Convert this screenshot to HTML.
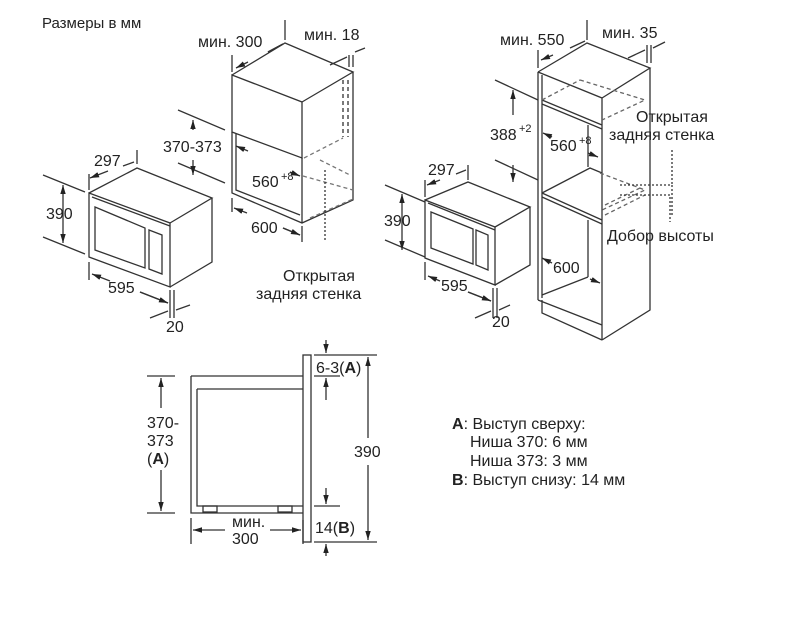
<!DOCTYPE html>
<html><head><meta charset="utf-8"><style>
html,body{margin:0;padding:0;background:#fff;}
svg{display:block;}
text{font-family:"Liberation Sans",sans-serif;font-size:16px;fill:#222;}
</style></head><body>
<svg width="800" height="618" viewBox="0 0 800 618" xmlns="http://www.w3.org/2000/svg">
<defs>
<marker id="a" viewBox="0 0 10 10" refX="10" refY="5" markerWidth="7" markerHeight="7" orient="auto-start-reverse"><path d="M0,2 L10,5 L0,8 z" fill="#222"/></marker>
</defs>
<text x="42" y="28" style="font-size:15px">Размеры в мм</text>

<g fill="none" stroke="#333" stroke-width="1.3">
<!-- microwave 1 -->
<path d="M89,193 L170,223 L170,287 L89,257 Z"/>
<path d="M89,193 L137,168 L212,198 L170,223 M212,198 L212,262 L170,287"/>
<path d="M92,197 L170,226"/>
<path d="M95,207 L145,228 L145,268 L95,250 Z"/>
<path d="M149,230 L162,235 L162,274 L149,269 Z"/>
<!-- dims m1 -->
<path d="M43,175 L85,192 M43,237 L85,254"/>
<path d="M63,185 L63,243" marker-start="url(#a)" marker-end="url(#a)"/>
<path d="M89,190 L89,174 M137,164 L137,150"/>
<path d="M90,178 L108,171 M123,166 L134,162" marker-start="url(#a)"/>
<path d="M89,262 L89,280 M170,290 L170,318 M174,290 L174,318"/>
<path d="M92,274 L110,281 M140,292 L168,303" marker-start="url(#a)"/>
<path d="M168,303 L140,292" marker-start="url(#a)"/>
<path d="M150,318 L168,311 M176,310 L190,305" />
<!-- cabinet 1 -->
<path d="M232,75 L302,102 L302,158 L232,132 Z"/>
<path d="M232,75 L285,43 L353,72 L302,102 M353,72 L353,200 L302,223 L232,193 L232,132 M302,158 L302,223"/>
<path d="M236,134 L236,190 L300,215"/>
<path d="M343,80 L343,137" stroke-dasharray="4,3"/>
<path d="M348,80 L348,137" stroke-dasharray="4,3"/>
<path d="M304,158 L343,138 M303,176 L353,190 M310,218 L353,199 M320,160 L350,175" stroke-dasharray="4,3" stroke="#777"/>
<path d="M325,170 L325,240" stroke-dasharray="2,2"/>
<!-- dims c1 -->
<path d="M178,110 L225,130 M178,163 L225,183"/>
<path d="M193,130 L193,120" marker-end="url(#a)"/>
<path d="M193,160 L193,175" marker-end="url(#a)"/>
<path d="M232,72 L232,55 M285,40 L285,20"/>
<path d="M236,68 L248,62 M268,52 L283,44" marker-start="url(#a)"/>
<path d="M283,44 L268,52"/>
<path d="M349,67 L349,55 M353,67 L353,55 M330,65 L347,57 M355,52 L365,48"/>
<path d="M232,198 L232,212 M302,226 L302,242"/>
<path d="M234,208 L247,213 M283,228 L300,235" marker-start="url(#a)" />
<path d="M236,146 L248,151" marker-start="url(#a)"/>
<path d="M300,176 L290,172" marker-start="url(#a)"/>
<path d="M300,235 L283,228" marker-start="url(#a)"/>
<!-- microwave 2 -->
<path d="M425,200 L495,227 L495,285 L425,258 Z"/>
<path d="M425,200 L468,182 L530,207 L495,227 M530,207 L530,265 L495,285"/>
<path d="M428,203 L495,230"/>
<path d="M431,212 L473,229 L473,264 L431,248 Z"/>
<path d="M476,230 L488,235 L488,270 L476,265 Z"/>
<path d="M385,185 L425,202 M385,240 L425,257"/>
<path d="M402,194 L402,250" marker-start="url(#a)" marker-end="url(#a)"/>
<path d="M425,197 L425,180 M468,180 L468,165"/>
<path d="M427,185 L440,180 M456,174 L466,170" marker-start="url(#a)"/>
<path d="M425,262 L425,280 M493,288 L493,318 M497,288 L497,318"/>
<path d="M428,276 L440,281 M468,292 L491,301" marker-start="url(#a)"/>
<path d="M491,301 L468,292" marker-start="url(#a)"/>
<path d="M475,318 L491,311 M499,310 L510,305"/>
<!-- tall cabinet -->
<path d="M538,72 L602,98 L602,340 M538,72 L538,300 M538,72 L587,43 L650,68 L602,98 M650,68 L650,310 L602,340"/>
<path d="M542,75 L542,298"/>
<path d="M542,300 L542,313 L602,340 M538,300 L602,325"/>
<path d="M542,100 L602,125 M542,104 L602,129"/>
<path d="M542,193 L602,220 M542,197 L602,224 M542,193 L590,168 L602,173"/>
<path d="M588,125 L588,167 M588,220 L588,277 M542,295 L588,277"/>
<path d="M542,100 L580,80 M580,80 L645,100 L602,120" stroke-dasharray="4,3" stroke="#666"/>
<path d="M600,173 L645,190 L602,210 M605,215 L645,195 M605,205 L640,188" stroke-dasharray="4,3" stroke="#666"/>
<path d="M620,185 L672,185 L672,215 M620,195 L670,195 L670,222" stroke-dasharray="2,2"/>
<path d="M672,150 L672,185" stroke-dasharray="2,2"/>
<!-- dims c2 -->
<path d="M495,80 L538,100 M495,160 L538,180"/>
<path d="M513,115 L513,90" marker-end="url(#a)"/>
<path d="M513,165 L513,182" marker-end="url(#a)"/>
<path d="M538,68 L538,50 M587,40 L587,20"/>
<path d="M541,60 L553,55 M570,48 L585,41" marker-start="url(#a)"/>
<path d="M647,63 L647,45 M651,63 L651,45 M628,58 L645,50 M653,48 L665,42"/>
<path d="M543,133 L552,137" marker-start="url(#a)"/>
<path d="M598,157 L588,153" marker-start="url(#a)"/>
<path d="M542,258 L552,263" marker-start="url(#a)"/>
<path d="M600,283 L590,279" marker-start="url(#a)"/>
<!-- side section -->
<path d="M191,376 L303,376 M191,376 L191,513 L303,513 M197,389 L303,389 M197,389 L197,506 L303,506"/>
<rect x="303" y="355" width="8" height="187"/>
<rect x="203" y="506" width="14" height="6"/>
<rect x="278" y="506" width="14" height="6"/>
<path d="M147,376 L175,376 M147,513 L175,513"/>
<path d="M161,408 L161,378" marker-end="url(#a)"/>
<path d="M161,470 L161,511" marker-end="url(#a)"/>
<path d="M191,518 L191,544 M303,520 L303,544"/>
<path d="M225,530 L193,530" marker-end="url(#a)"/>
<path d="M270,530 L301,530" marker-end="url(#a)"/>
<path d="M314,355 L377,355 M314,542 L377,542 M314,376 L340,376 M314,506 L340,506"/>
<path d="M368,438 L368,357" marker-end="url(#a)"/>
<path d="M368,465 L368,540" marker-end="url(#a)"/>
<path d="M326,340 L326,353" marker-end="url(#a)"/>
<path d="M326,400 L326,378" marker-end="url(#a)"/>
<path d="M326,488 L326,504" marker-end="url(#a)"/>
<path d="M326,556 L326,544" marker-end="url(#a)"/>
</g>

<g>
<text x="198" y="47">мин. 300</text>
<text x="304" y="40">мин. 18</text>
<text x="163" y="152">370-373</text>
<text x="252" y="187">560</text><text x="281" y="180" style="font-size:11px">+8</text>
<text x="94" y="166">297</text>
<text x="46" y="219">390</text>
<text x="108" y="293">595</text>
<text x="166" y="332">20</text>
<text x="251" y="233">600</text>
<text x="283" y="281">Открытая</text>
<text x="256" y="299">задняя стенка</text>

<text x="500" y="45">мин. 550</text>
<text x="602" y="38">мин. 35</text>
<text x="490" y="140">388</text><text x="519" y="132" style="font-size:11px">+2</text>
<text x="550" y="151">560</text><text x="579" y="144" style="font-size:11px">+8</text>
<text x="428" y="175">297</text>
<text x="384" y="226">390</text>
<text x="441" y="291">595</text>
<text x="492" y="327">20</text>
<text x="553" y="273">600</text>
<text x="636" y="122">Открытая</text>
<text x="609" y="140">задняя стенка</text>
<text x="607" y="241">Добор высоты</text>

<text x="147" y="428">370-</text>
<text x="147" y="446">373</text>
<text x="147" y="464">(<tspan font-weight="bold">A</tspan>)</text>
<text x="354" y="457">390</text>
<text x="316" y="373">6-3(<tspan font-weight="bold">A</tspan>)</text>
<text x="315" y="533">14(<tspan font-weight="bold">B</tspan>)</text>
<text x="232" y="527">мин.</text>
<text x="232" y="544">300</text>

<text x="452" y="429"><tspan font-weight="bold">A</tspan>: Выступ сверху:</text>
<text x="470" y="447">Ниша 370: 6 мм</text>
<text x="470" y="466">Ниша 373: 3 мм</text>
<text x="452" y="485"><tspan font-weight="bold">B</tspan>: Выступ снизу: 14 мм</text>
</g>
</svg>
</body></html>
